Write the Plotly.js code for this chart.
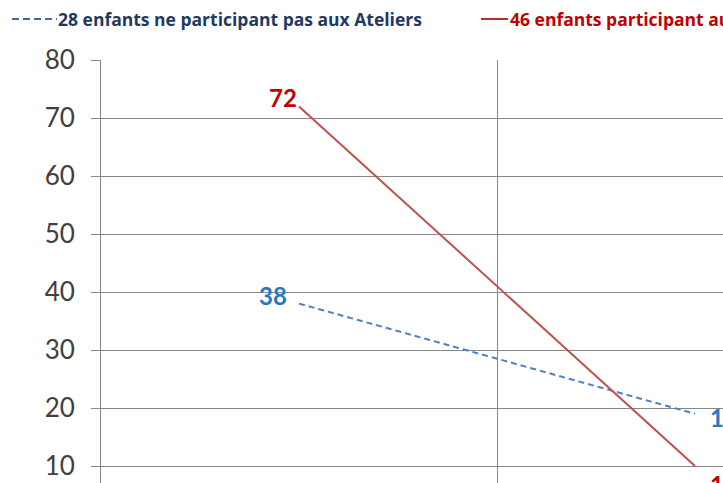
<!DOCTYPE html>
<html><head><meta charset="utf-8">
<script src="https://cdn.plot.ly/plotly-3.0.1.min.js"></script>
<style>html,body{margin:0;padding:0;overflow:hidden;background:#fff}#c{width:1000px;height:560px}</style>
</head><body><div id="c"></div>
<script>
const categories = [0, 1];
const nonParticipants = [38, 19];
const participants = [72, 10];
const seriesNames = ['28 enfants ne participant pas aux Ateliers', '46 enfants participant aux Ateliers'];
const yTicks = [0, 10, 20, 30, 40, 50, 60, 70, 80];

const blueLine = '#4F81BD', redLine = '#C0504D';
const blueLabel = '#2878BE', redLabel = '#C00000';
const blueText = '#1F3A5F';

const W = 1000, H = 560, L = 101, T = 60, PW = 792, PH = 464;
const px = v => (v - L) / PW;          // pixel x -> paper x
const py = v => 1 + (T - v) / PH;      // pixel y -> paper y

const traces = [
  {x: categories, y: nonParticipants, mode: 'lines', type: 'scatter', name: seriesNames[0],
   line: {color: blueLine, width: 2, dash: '6px,4px'}},
  {x: categories, y: participants, mode: 'lines', type: 'scatter', name: seriesNames[1],
   line: {color: redLine, width: 2}}
];

// data labels: offsets (pixels) relative to each point
const labelStyle = [
  {series: nonParticipants, color: blueLabel, offs: [[-10, 8, 'right'], [13, -3.5, 'left']]},
  {series: participants, color: redLabel, offs: [[0, 8.5, 'right'], [13, -18, 'left']]}
];
const annotations = [];
labelStyle.forEach(s => {
  s.series.forEach((v, i) => {
    annotations.push({x: categories[i], y: v, xref: 'x', yref: 'y', text: '<b>' + v + '</b>',
      showarrow: false, xanchor: s.offs[i][2], yanchor: 'middle',
      xshift: s.offs[i][0], yshift: s.offs[i][1],
      font: {family: 'Lato', size: 24, color: s.color}});
  });
});

// legend (drawn as shapes + annotations)
const legendY = 19;
const legendItems = [
  {name: seriesNames[0], color: blueText, line: '#4A6890', dash: '7px,4px', x0: 12, x1: 57, tx: 57},
  {name: seriesNames[1], color: redLabel, line: '#B0302F', dash: 'solid', x0: 481, x1: 508, tx: 509}
];
const shapes = [];
legendItems.forEach(it => {
  shapes.push({type: 'line', xref: 'paper', yref: 'paper', x0: px(it.x0), x1: px(it.x1),
    y0: py(legendY), y1: py(legendY), line: {color: it.line, width: 2, dash: it.dash}});
  annotations.push({xref: 'paper', yref: 'paper', x: px(it.tx), y: py(legendY), text: '<b>' + it.name + '</b>',
    showarrow: false, xanchor: 'left', yanchor: 'middle', borderpad: 0,
    font: {family: 'Open Sans', size: 17.5, color: it.color}});
});

const layout = {
  width: W, height: H,
  margin: {l: L, r: W - L - PW, t: T, b: H - T - PH, autoexpand: false},
  paper_bgcolor: '#ffffff', plot_bgcolor: '#ffffff',
  font: {family: 'Lato', color: '#404040'},
  showlegend: false,
  annotations: annotations,
  shapes: shapes,
  xaxis: {range: [-0.5, 1.5], tickvals: [-0.5, 0.5, 1.5], showticklabels: false,
          showgrid: true, gridcolor: '#868686', gridwidth: 1, zeroline: false,
          showline: false, ticks: ''},
  yaxis: {range: [0, 80], tickvals: yTicks, showgrid: true, gridcolor: '#868686', gridwidth: 1,
          zeroline: false, showline: true, linecolor: '#868686', linewidth: 1,
          ticks: 'outside', ticklen: 9, tickcolor: '#868686', ticklabelstandoff: 11,
          tickfont: {family: 'Lato', size: 26, color: '#404040'}}
};
Plotly.newPlot('c', traces, layout, {displayModeBar: false});
</script></body></html>
